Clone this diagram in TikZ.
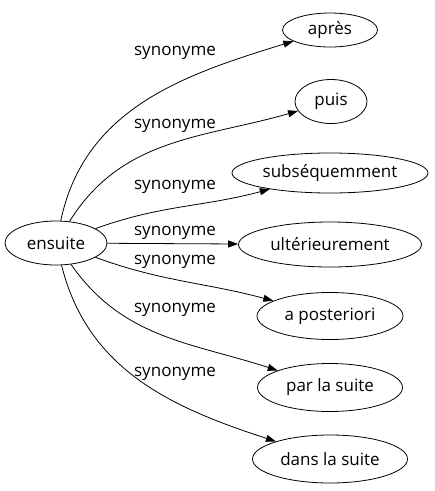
\documentclass[tikz,border=0pt]{standalone}
\usepackage{fontspec}
\setmainfont{Open Sans}
\usetikzlibrary{shapes.geometric,arrows.meta,positioning}

\begin{document}
\begin{tikzpicture}[
    x=1pt, y=1pt,
    node distance=71.5pt,
    >={Triangle[length=10pt,width=7pt]},
    line width=0.8pt,
    word/.style={ellipse, draw, inner sep=0pt, font=\fontsize{17}{19}\selectfont},
    rel/.style={font=\fontsize{17}{19}\selectfont, inner sep=0pt}
]
\useasboundingbox (0,0) rectangle (435,-491);

% Source
\node [word, minimum width=102pt, minimum height=44pt] (ensuite) at (56,-243) {ensuite};

% Synonyms
\node [word, minimum width=95pt, minimum height=34pt] (apres) at (330,-30) {après};
\node [word, minimum width=72pt, minimum height=44pt, below of=apres, xshift=1pt] (puis) {puis};
\node [word, minimum width=196pt, minimum height=40pt, below of=puis, xshift=-1pt] (subseq) {subséquemment};
\node [word, minimum width=183pt, minimum height=45pt, below of=subseq] (ulter) {ultérieurement};
\node [word, minimum width=146pt, minimum height=47pt, below of=ulter] (aposter) {a posteriori};
\node [word, minimum width=145pt, minimum height=48pt, below of=aposter] (parla) {par la suite};
\node [word, minimum width=155pt, minimum height=48pt, below of=parla] (dansla) {dans la suite};

% Labels
\node [rel] (l1) at (175,-53) {synonyme};
\node [rel] (l2) at (175,-126) {synonyme};
\node [rel] (l3) at (175,-187) {synonyme};
\node [rel] (l4) at (175,-233) {synonyme};
\node [rel] (l5) at (175,-262) {synonyme};
\node [rel] (l6) at (175,-310) {synonyme};
\node [rel] (l7) at (175,-374) {synonyme};

% Connections
\draw [->] (ensuite) to[out=78, in=197] (apres);
\draw [->] (ensuite) to[out=58, in=196] (puis);
\draw [->] (ensuite) to[out=20, in=195] (subseq);
\draw [->] (ensuite) -- (ulter);
\draw [->] (ensuite) to[out=-20, in=165] (aposter);
\draw [->] (ensuite) to[out=-55, in=162] (parla);
\draw [->] (ensuite) to[out=-76, in=162] (dansla);

\end{tikzpicture}
\end{document}
